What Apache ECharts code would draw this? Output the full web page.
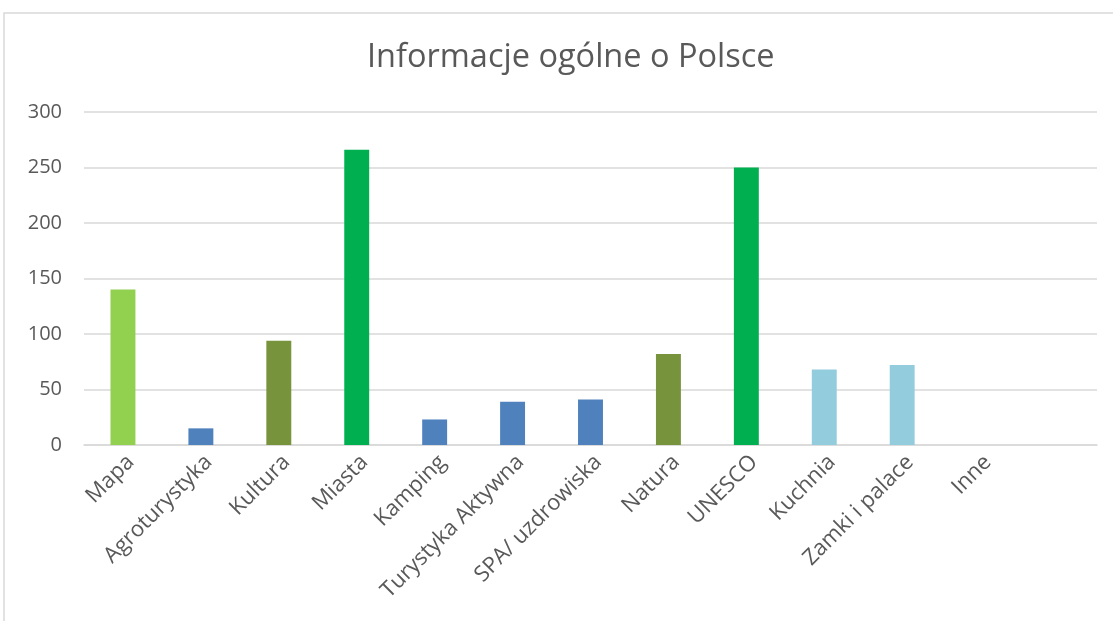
<!DOCTYPE html>
<html>
<head>
<meta charset="utf-8">
<script src="https://cdn.jsdelivr.net/npm/echarts@6/dist/echarts.min.js"></script>
<style>
  html, body { margin: 0; padding: 0; background: #fff; }
  #chart { width: 1113px; height: 621px; }
</style>
</head>
<body>
<div id="chart"></div>
<script>
// dane wykresu
var categories = ['Mapa', 'Agroturystyka', 'Kultura', 'Miasta', 'Kamping', 'Turystyka Aktywna',
    'SPA/ uzdrowiska', 'Natura', 'UNESCO', 'Kuchnia', 'Zamki i palace', 'Inne', ''];
var values = [140, 15, 94, 266, 23, 39, 41, 82, 250, 68, 72, 0, null];
var barColors = ['#92D050', '#4F81BD', '#77933C', '#00B050', '#4F81BD', '#4F81BD',
    '#4F81BD', '#77933C', '#00B050', '#93CDDD', '#93CDDD', '#93CDDD', '#93CDDD'];
var yTicks = [0, 50, 100, 150, 200, 250, 300];

var chart = echarts.init(document.getElementById('chart'));

var data = [];
for (var i = 0; i < values.length; i++) {
    data.push({ value: values[i], itemStyle: { color: barColors[i] } });
}

var option = {
    animation: false,
    backgroundColor: '#fff',
    graphic: [{
        type: 'rect',
        shape: { x: 4, y: 13, width: 1200, height: 700 },
        style: { fill: 'none', stroke: '#d9d9d9', lineWidth: 1.5 },
        silent: true
    }],
    title: {
        text: 'Informacje ogólne o Polsce',
        left: 362,
        top: 36,
        textStyle: {
            fontFamily: 'Open Sans',
            fontSize: 32.5,
            fontWeight: 'normal',
            color: '#595959'
        }
    },
    grid: { left: 84, right: 16, top: 112, bottom: 176, containLabel: false },
    xAxis: {
        type: 'category',
        data: categories,
        axisLine: { lineStyle: { color: '#d9d9d9', width: 1.5 } },
        axisTick: { show: false },
        axisLabel: {
            interval: 0,
            rotate: 45,
            margin: 6,
            verticalAlign: 'top',
            fontFamily: 'Open Sans',
            fontSize: 22,
            color: '#595959'
        }
    },
    yAxis: {
        type: 'value',
        min: yTicks[0],
        max: yTicks[yTicks.length - 1],
        interval: 50,
        axisLine: { show: false },
        axisTick: { show: false },
        splitLine: { lineStyle: { color: '#d9d9d9', width: 1.5 } },
        axisLabel: {
            margin: 22,
            fontFamily: 'Open Sans',
            fontSize: 20,
            color: '#595959'
        }
    },
    series: [{
        type: 'bar',
        data: data,
        barWidth: '32%'
    }]
};
chart.setOption(option);
</script>
</body>
</html>
